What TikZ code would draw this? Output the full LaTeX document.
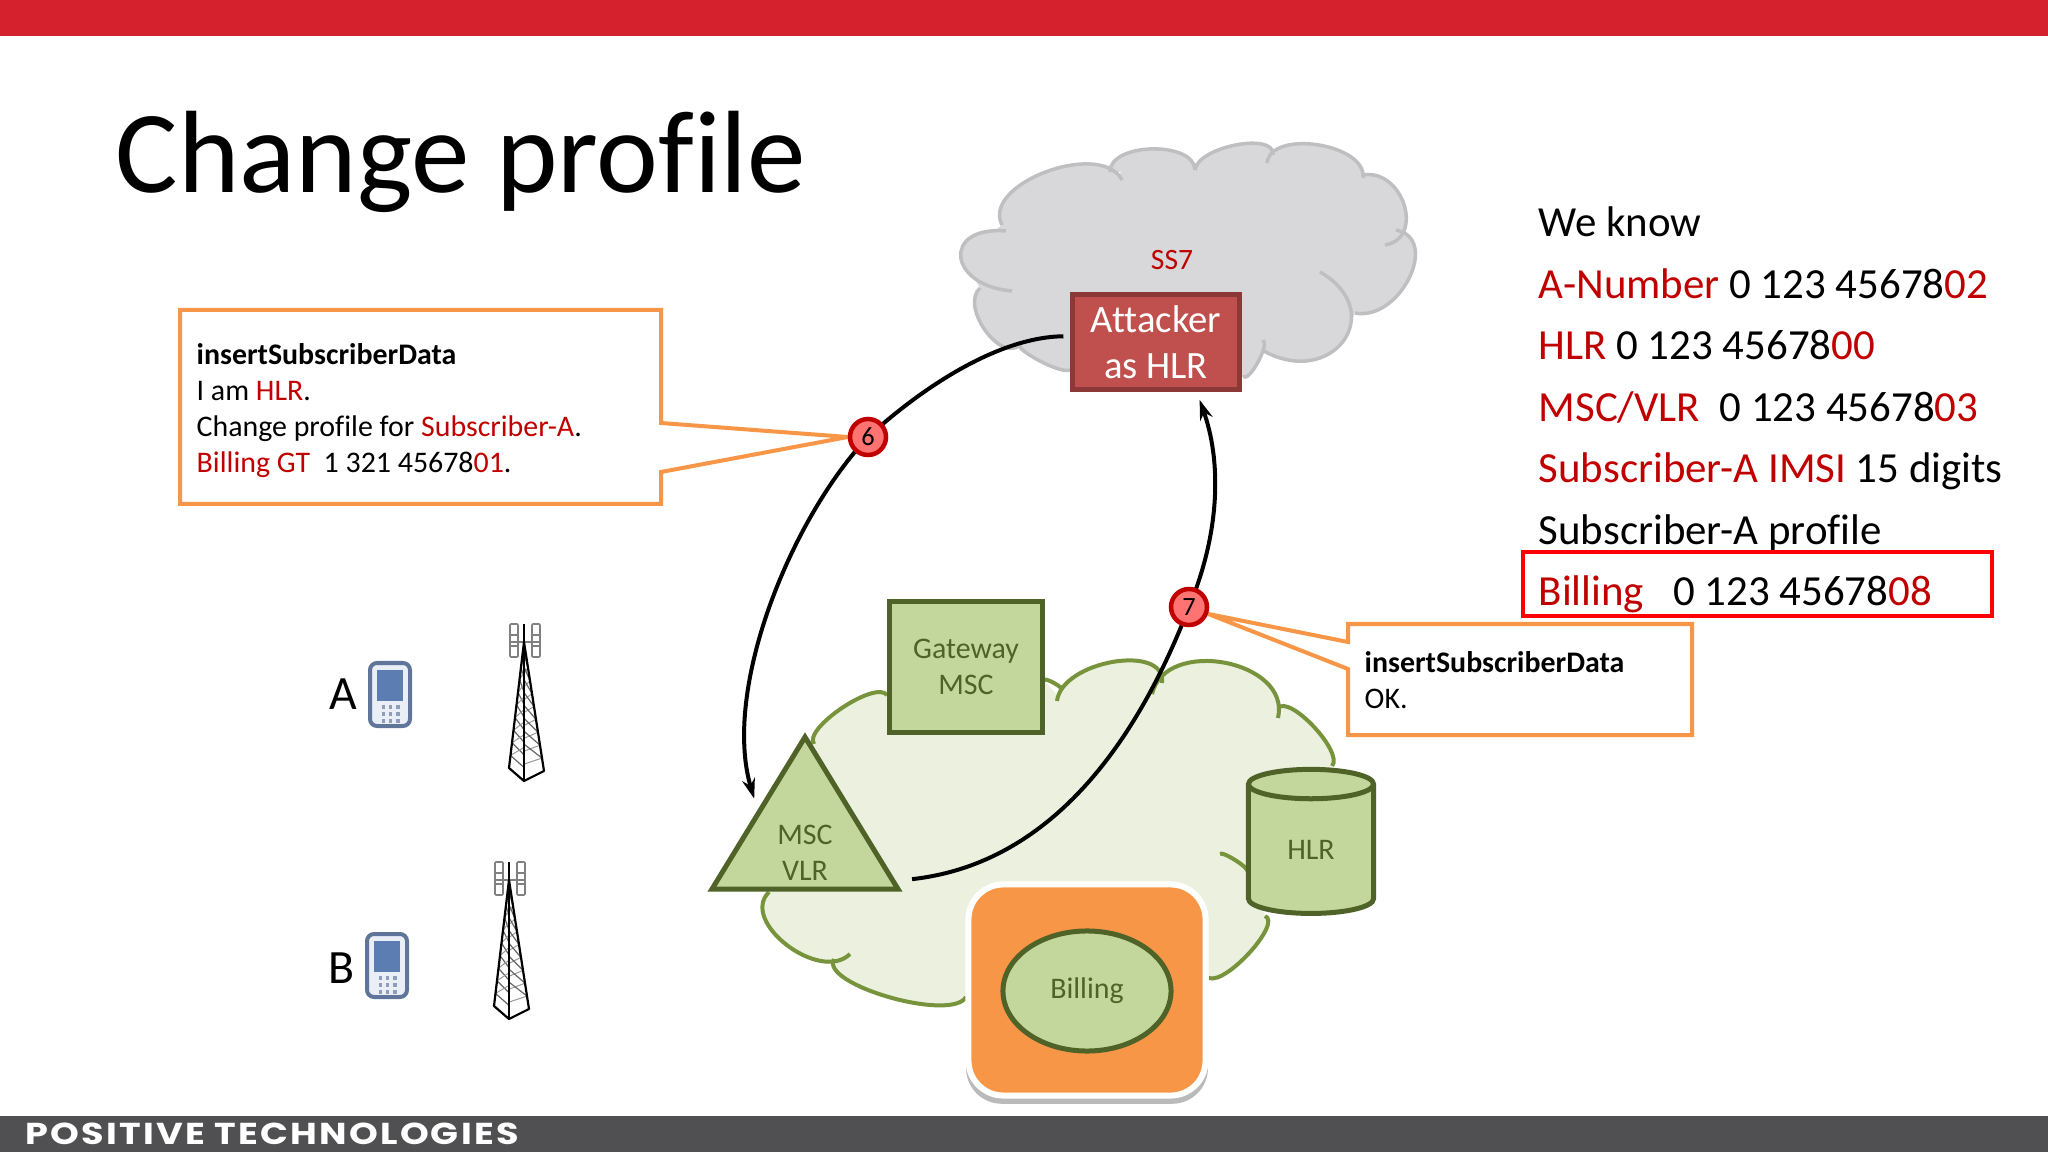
\documentclass[tikz,border=0pt]{standalone}
\usepackage{fontspec}
\setmainfont{Carlito}[Ligatures=NoCommon]
\newfontfamily\logofont[LetterSpace=6]{Poppins}
\usetikzlibrary{
  arrows.meta,
  backgrounds,
  calc,
  shadows,
  shapes.geometric,
}
\definecolor{ptred}{HTML}{D5212E}
\definecolor{ptbar}{HTML}{505052}
\definecolor{redtext}{HTML}{C00000}
\definecolor{greentext}{HTML}{4F6228}
\definecolor{nodegreen}{HTML}{C3D69B}
\definecolor{topgreen}{HTML}{D8E4BC}
\definecolor{cloudgreen}{HTML}{EBF1DE}
\definecolor{linegreen}{HTML}{77933C}
\definecolor{cloudgrey}{HTML}{D8D8DB}
\definecolor{linegrey}{HTML}{BFBFC1}
\definecolor{attackerfill}{HTML}{C0504D}
\definecolor{attackerline}{HTML}{8C3836}
\definecolor{calloutorange}{HTML}{F79646}
\definecolor{phoneline}{HTML}{5F7599}
\definecolor{phonefill}{HTML}{E9EEF7}
\definecolor{phonescreen}{HTML}{5B7DB1}
\newcommand{\rt}[1]{\textcolor{redtext}{#1}}
% one bulge of a cloud: start, middle, end
\newcommand{\lobe}[3]{#1 .. controls ($#1+1.34*#2-0.67*#1-0.67*#3$) and ($#3+1.34*#2-0.67*#1-0.67*#3$) .. #3}
\tikzset{
  >={Stealth[length=0.2cm,width=0.13cm]},
  greennode/.style={draw=greentext, fill=nodegreen, text=greentext, line width=0.05cm, outer sep=0, inner sep=0,
    align=center, font=\fontsize{8.5}{10.2}\selectfont},
  msgtext/.style={anchor=north west, align=left, inner sep=0, font=\fontsize{8.5}{10.25}\selectfont},
  callout/.style={draw=calloutorange, fill=white, line width=0.04cm, line join=miter},
  badge/.style={circle, draw=redtext, fill=red!55!white, line width=0.045cm, minimum size=0.36cm, inner sep=0,
    font=\fontsize{7.5}{8}\selectfont},
  signal/.style={line width=0.04cm},
  pics/phone/.style={code={
    \draw[line width=0.04cm, draw=phoneline, fill=phonefill, rounded corners=0.07cm] (2,2) rectangle (42,65);
    \fill[phonescreen] (9,9) rectangle (35,40);
    \foreach \i in {0,1,2}
      \foreach \j in {0,1,2}
        \fill[phoneline!70!white] ({13.5+7.2*\i},{44+7.2*\j}) rectangle ++(3.6,3.6);
  }},
  pics/tower/.style={code={
    \draw[line width=0.016cm, draw=gray] (-14,0) -- (16,0);
    \foreach \x in {-14,8} {
      \draw[line width=0.016cm, draw=gray, rounded corners=0.01cm] (\x,-18) rectangle ++(8,33);
      \draw[line width=0.016cm, draw=gray] (\x,-7) -- ++(8,0) (\x,4) -- ++(8,0);
    }
    \foreach \t in {0.2,0.3,0.4,0.5,0.6,0.7,0.8,0.9} {
      \draw[line width=0.012cm, draw=black!60] ({-15*\t},{126*\t}) -- (0,{126*\t+12});
      \draw[line width=0.012cm, draw=black!60] ({20*\t},{129*\t}) -- (0,{129*\t-14});
      \draw[line width=0.01cm, draw=black!40] ({-15*\t},{126*\t}) -- (0,{126*\t-8});
      \draw[line width=0.01cm, draw=black!40] ({20*\t},{129*\t}) -- (0,{129*\t+6});
    }
    \draw[line width=0.02cm, line join=round] (0,-18) -- (0,139);
    \draw[line width=0.022cm, line join=round] (0,0) -- (-15,126) -- (0,139) -- (20,129) -- cycle;
  }},
}
\begin{document}
\begin{tikzpicture}[x=0.01cm, y=-0.01cm]
  \useasboundingbox (0,0) rectangle (2048,1152);
  \fill[ptred] (0,0) rectangle (2048,36);
  \fill[ptbar] (0,1116) rectangle (2048,1152);

  \node[anchor=base west, inner sep=0, font=\fontsize{33.3}{36}\selectfont] (title) at (115,193) {Change profile};
  \node[anchor=base west, inner sep=0, text=white, font=\logofont\bfseries\fontsize{8.6}{10}\selectfont] (logo) at (25,1144) {\scalebox{1.21}[1]{POSITIVE TECHNOLOGIES}};

  % network nodes
  \node[draw=attackerline, fill=attackerfill, text=white, line width=0.05cm, outer sep=0, inner sep=0,
    minimum width=1.67cm, minimum height=0.95cm, align=center, font=\fontsize{11}{13}\selectfont]
    (attacker) at (1156,342) {Attacker\\as HLR};
  \node[inner sep=0, text=redtext, font=\fontsize{8.4}{10}\selectfont] (ss7) at (1172,260) {SS7};
  \node[greennode, minimum width=1.52cm, minimum height=1.31cm] (gateway) at (966,667) {Gateway\\MSC};
  \node[greennode, isosceles triangle, isosceles triangle stretches, shape border rotate=90,
    minimum width=1.86cm, minimum height=1.52cm] (vlr) at (805,837) {};
  \node[inner sep=0, align=center, text=greentext, font=\fontsize{8.5}{10.2}\selectfont] (vlrtext) at (805,853) {MSC\\VLR};
  \node[greennode, cylinder, shape border rotate=90, aspect=0.62, minimum width=1.25cm, minimum height=1.44cm,
    cylinder uses custom fill, cylinder body fill=nodegreen, cylinder end fill=topgreen] (hlr) at (1311,850) {HLR};
  \node[draw=white, fill=calloutorange, line width=0.06cm, rounded corners=0.35cm, minimum width=2.37cm,
    minimum height=2.11cm, drop shadow={shadow xshift=0cm, shadow yshift=-0.06cm, shadow scale=1.02, fill=black!45, opacity=0.6}]
    (billingbox) at (1087,990) {};
  \node[greennode, ellipse, minimum width=1.68cm, minimum height=1.2cm] (billing) at (1087,991) {Billing};

  % subscribers and towers
  \node[anchor=base, inner sep=0, font=\fontsize{13.6}{14}\selectfont] (subA) at (343,709) {A};
  \node[anchor=base, inner sep=0, font=\fontsize{13.6}{14}\selectfont] (subB) at (342,983) {B};
  \pic at (368,661) {phone};
  \pic at (365,932) {phone};
  \pic at (524,642) {tower};
  \pic at (509,880) {tower};

  % numbered steps
  \node[badge] (six) at (868,437) {6};
  \node[badge] (seven) at (1189,607) {7};

  % message texts
  \node[msgtext] (msgsix) at (196,343) {\textbf{insertSubscriberData}\\I am \rt{HLR}.\\Change profile for \rt{Subscriber-A}.\\\rt{Billing GT}\ \ 1 321 45678\rt{01}.};
  \node[msgtext] (msgseven) at (1364,651) {\textbf{insertSubscriberData}\\OK.};

  % what is known
  \node[anchor=north west, align=left, inner sep=0, font=\fontsize{12.2}{17.5}\selectfont] (known) at (1538,206)
    {We know\\\rt{A-Number} 0 123 45678\rt{02}\\\rt{HLR} 0 123 45678\rt{00}\\\rt{MSC/VLR}\ \ 0 123 45678\rt{03}\\\rt{Subscriber-A IMSI} 15 digits\\Subscriber-A profile\\\rt{Billing}\ \ \ 0 123 45678\rt{08}};
  \draw[red, line width=0.035cm] (1523,552) rectangle (1992,616);

  \begin{pgfonlayer}{background}
    % SS7 cloud
    \fill[cloudgrey] (1002,225) -- (1046,172) -- (1116,176) -- (1152,149) -- (1195,170) -- (1236,145) -- (1270,158)
      -- (1318,145) -- (1363,176) -- (1404,205) -- (1396,235) -- (1409,278) -- (1355,313) -- (1343,341) -- (1262,350)
      -- (1243,377) -- (1070,370) -- (1020,344) -- (985,330) -- (980,288) -- (961,257) -- cycle;
    \filldraw[fill=cloudgrey, draw=linegrey, line width=0.035cm]
      \lobe{(1002,225)}{(1046,172)}{(1122,180)}
      \lobe{(1110,172)}{(1152,149)}{(1195,170)}
      \lobe{(1195,170)}{(1236,145)}{(1273,155)}
      \lobe{(1267,163)}{(1318,145)}{(1363,178)}
      \lobe{(1363,175)}{(1404,205)}{(1385,245)}
      \lobe{(1396,230)}{(1409,278)}{(1355,313)}
      \lobe{(1320,272)}{(1343,341)}{(1262,350)}
      \lobe{(1263,340)}{(1258,362)}{(1243,377)}
      \lobe{(1070,370)}{(1038,360)}{(1020,343)}
      \lobe{(1020,345)}{(985,330)}{(980,288)}
      \lobe{(1012,291)}{(961,257)}{(1006,231)};
    % home network cloud
    \fill[cloudgreen] (887,695) -- (842,708) -- (814,744) -- (769,892) -- (787,945) -- (834,959) -- (889,997) -- (966,997)
      -- (1209,978) -- (1250,952) -- (1265,916) -- (1247,871) -- (1332,766) -- (1314,727) -- (1278,712) -- (1225,663)
      -- (1157,690) -- (1113,662) -- (1057,695) -- (1044,680) -- cycle;
    \filldraw[fill=cloudgreen, draw=linegreen, line width=0.04cm]
      \lobe{(887,695)}{(842,708)}{(814,744)}
      \lobe{(769,892)}{(787,945)}{(850,954)}
      \lobe{(834,959)}{(889,997)}{(966,997)}
      \lobe{(1209,978)}{(1250,952)}{(1265,916)}
      \lobe{(1220,854)}{(1235,860)}{(1247,871)}
      \lobe{(1278,708)}{(1314,727)}{(1332,766)}
      \lobe{(1278,718)}{(1225,663)}{(1152,694)}
      \lobe{(1162,683)}{(1113,662)}{(1057,701)}
      \lobe{(1044,680)}{(1054,683)}{(1062,690)};
    % signalling
    \draw[signal, ->, shorten <=0.09cm, shorten >=0.15cm] (attacker.176)
      .. controls (1000,337) and (925,385) .. (six.center)
      .. controls (790,520) and (722,690) .. (vlr.left side);
    \coordinate (vlrout) at ($(vlr.right corner)+(14,-10)$);
    \draw[signal, ->, shorten >=0.11cm] (vlrout)
      .. controls (1040,865) and (1130,760) .. (seven.center)
      .. controls (1221,530) and (1221,460) .. (attacker.-50);
    % callouts
    \draw[callout] (180,310) -- (661,310) -- (661,423) -- (six.west) -- (661,472) -- (661,504) -- (180,504) -- cycle;
    \draw[callout] (1348,624) -- (1692,624) -- (1692,735) -- (1348,735) -- (1348,669) -- (seven.-20) -- (1348,642) -- cycle;
  \end{pgfonlayer}
\end{tikzpicture}
\end{document}
